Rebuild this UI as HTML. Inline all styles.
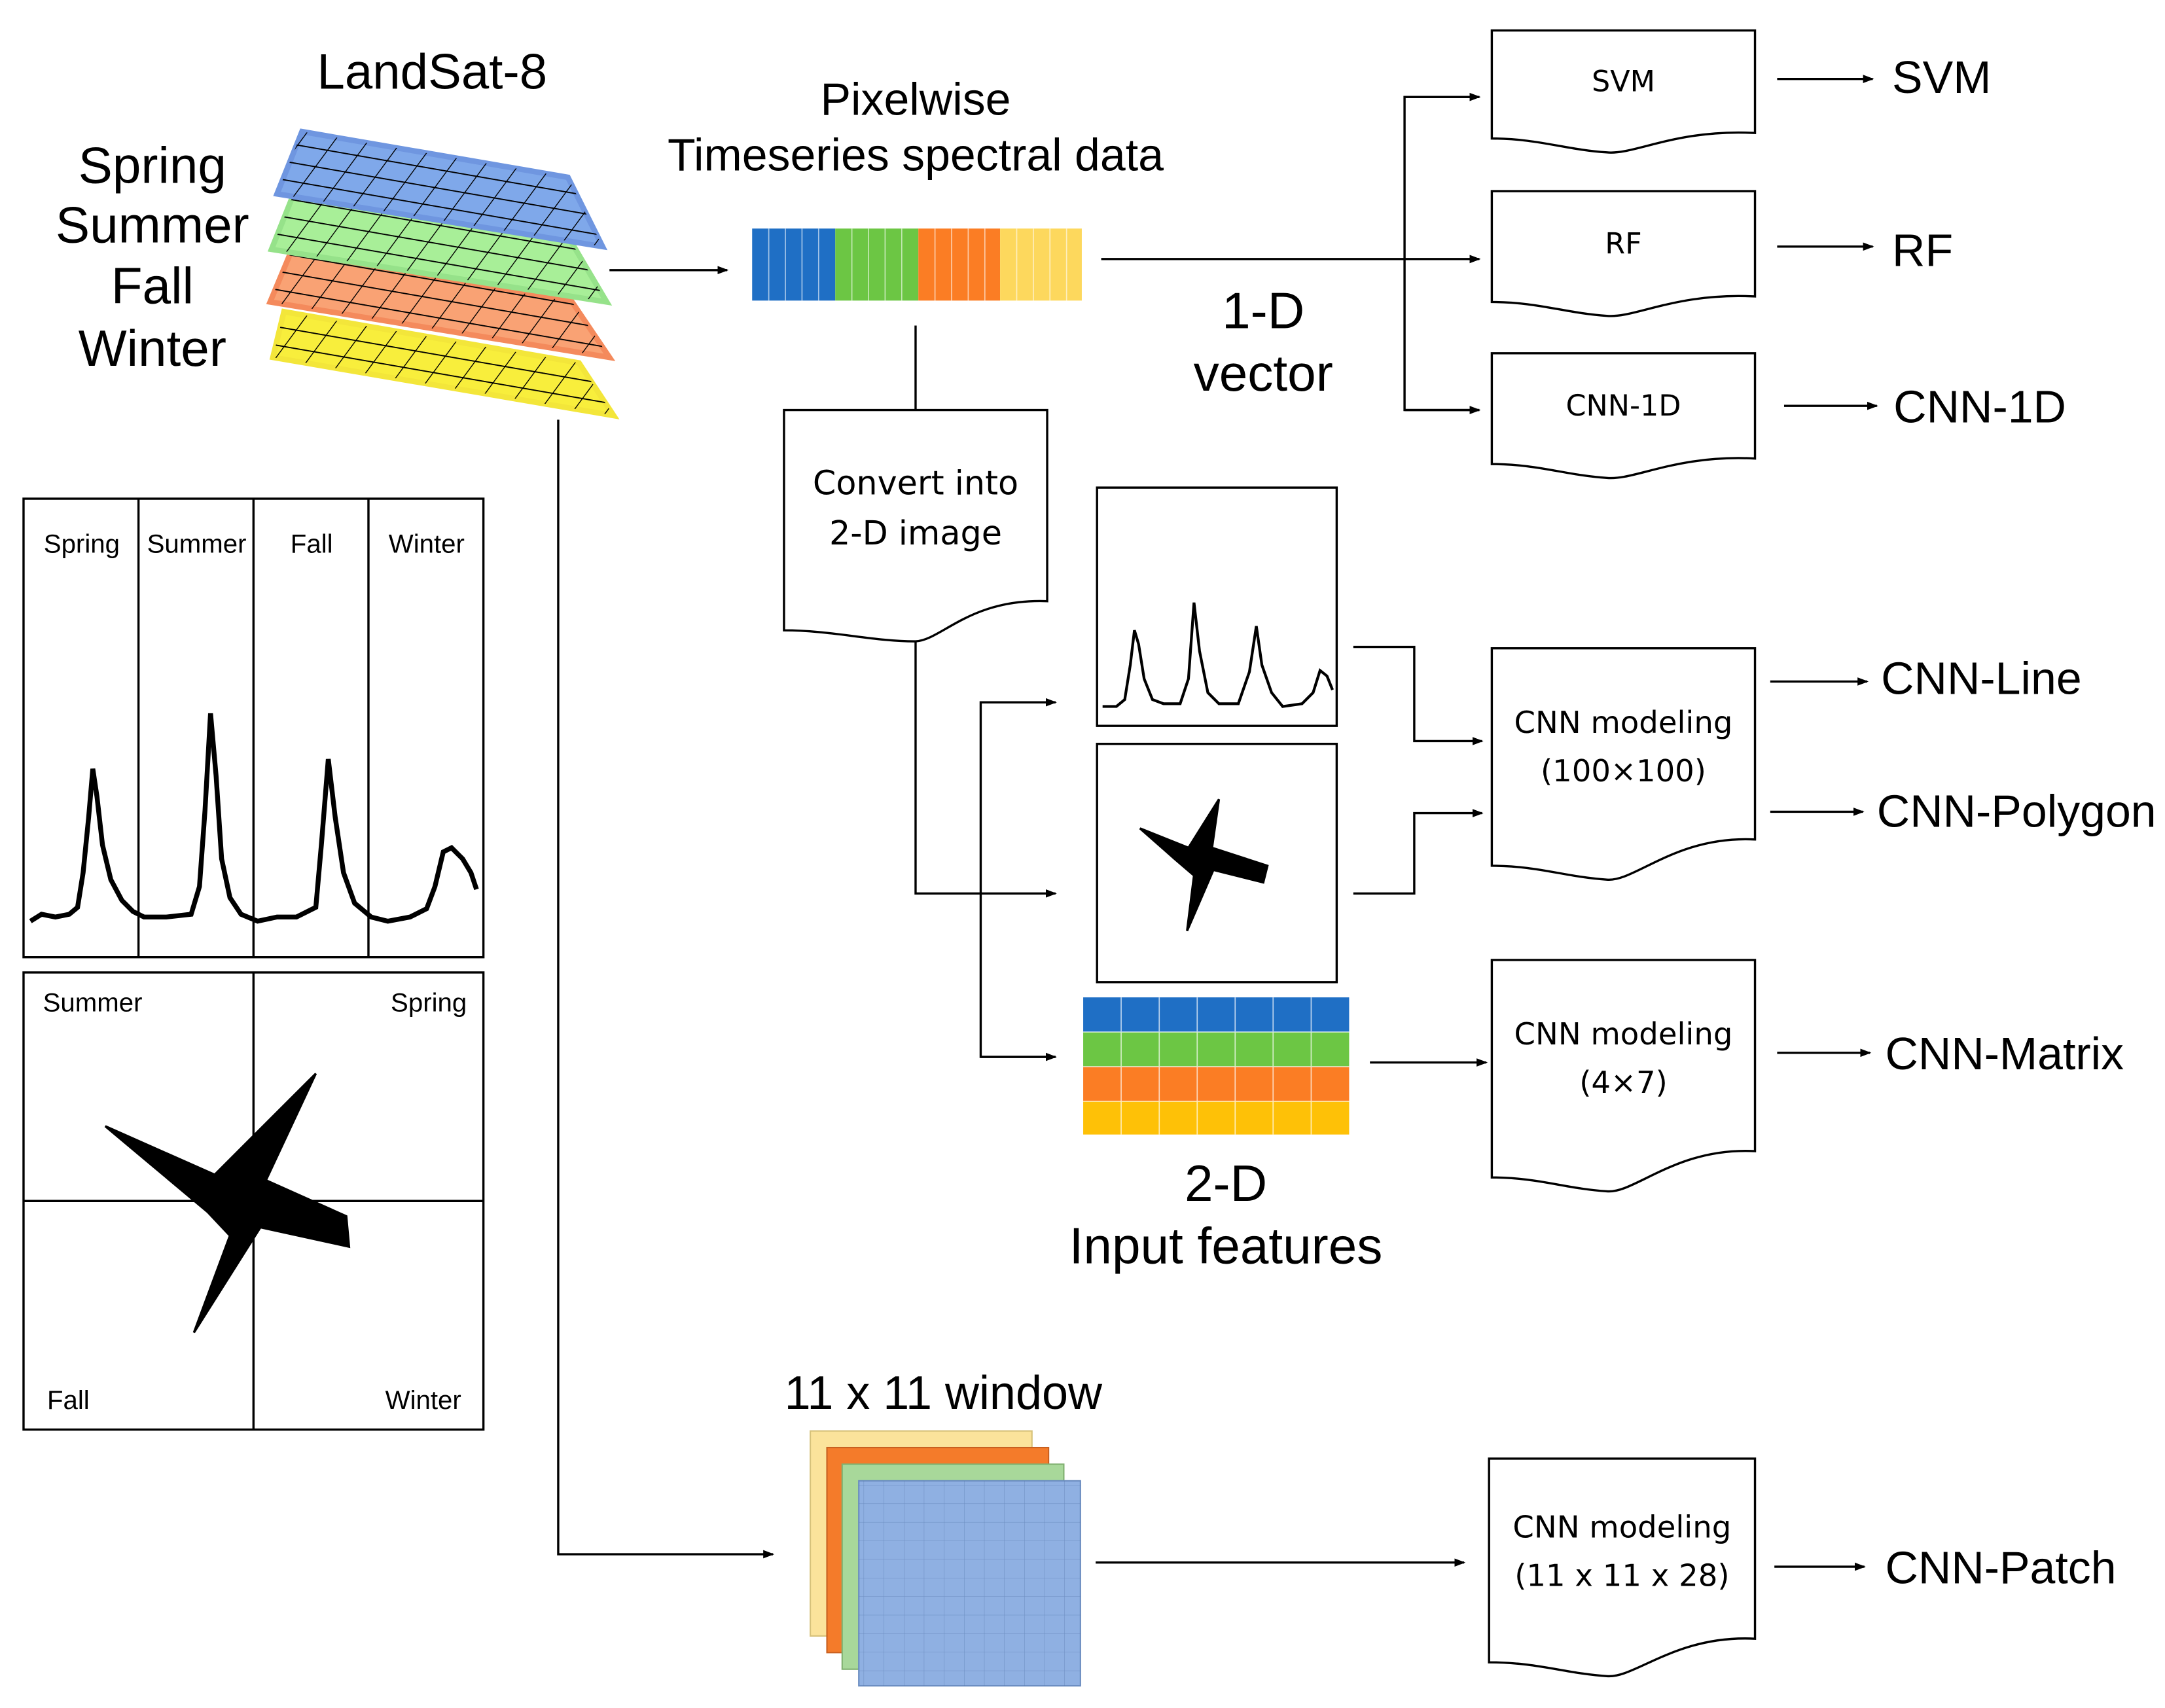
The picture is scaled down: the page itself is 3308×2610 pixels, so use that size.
<!DOCTYPE html>
<html><head><meta charset="utf-8"><style>
html,body{margin:0;padding:0;background:#fff;}
svg{display:block;}
text{font-family:"Liberation Sans",sans-serif;fill:#000;}
.c{text-anchor:middle;}
.dj{font-family:"DejaVu Sans","Liberation Sans",sans-serif;}
</style></head><body>
<svg width="3308" height="2610" viewBox="0 0 1563 1233" preserveAspectRatio="none" xmlns="http://www.w3.org/2000/svg">
<defs>
<marker id="a" markerWidth="8" markerHeight="8" refX="7" refY="4" orient="auto" markerUnits="userSpaceOnUse"><path d="M0,1 L8,4 L0,7 Z" fill="#000"/></marker>
<pattern id="g" width="24" height="12" patternUnits="userSpaceOnUse" patternTransform="skewX(-30) rotate(9)"><path d="M0,0 H24 M0,0 V12" stroke="#000" stroke-width="1.6" fill="none"/></pattern>
<pattern id="pg" width="14.5" height="13.4" patternUnits="userSpaceOnUse"><path d="M0,0 H14.5 M0,0 V13.4" stroke="#5577aa" stroke-width="0.5" fill="none" opacity="0.6"/></pattern>
</defs>
<g stroke="#000" stroke-width="1.6" fill="none">
<g>
<polygon points="205,225 418,262 443,300 197,258" fill="#f8ee3c" stroke="#f3e63a" stroke-width="4"/>
<polygon points="205,225 418,262 443,300 197,258" fill="url(#g)" stroke="none"/>
<polygon points="210,182 413,218 440,258 195,218" fill="#f9a274" stroke="#f48a5c" stroke-width="4"/>
<polygon points="210,182 413,218 440,258 195,218" fill="url(#g)" stroke="none"/>
<polygon points="212,140 412,174 438,218 196,180" fill="#a8ef98" stroke="#96e28a" stroke-width="4"/>
<polygon points="212,140 412,174 438,218 196,180" fill="url(#g)" stroke="none"/>
<polygon points="218,95 410,128 435,178 200,140" fill="#7fa8ea" stroke="#6f96e0" stroke-width="4"/>
<polygon points="218,95 410,128 435,178 200,140" fill="url(#g)" stroke="none"/>
</g>
<line x1="440" y1="195" x2="525" y2="195" marker-end="url(#a)"/>
<rect x="543" y="165" width="60" height="52" fill="#1f6fc5" stroke="none"/>
<rect x="603" y="165" width="60" height="52" fill="#6cc644" stroke="none"/>
<rect x="663" y="165" width="59" height="52" fill="#fb7d24" stroke="none"/>
<rect x="722" y="165" width="59" height="52" fill="#fdd85d" stroke="none"/>
<path d="M555,165V217M567,165V217M579,165V217M591,165V217M615,165V217M627,165V217M639,165V217M651,165V217M675,165V217M687,165V217M699,165V217M711,165V217M734,165V217M746,165V217M758,165V217M770,165V217" stroke="#fff" stroke-width="0.8" opacity="0.6"/>
<line x1="795" y1="187" x2="1068" y2="187" marker-end="url(#a)"/>
<path d="M1068,70 H1014 V296 H1068" />
<line x1="1014" y1="70" x2="1068" y2="70" marker-end="url(#a)"/>
<line x1="1014" y1="296" x2="1068" y2="296" marker-end="url(#a)"/>
<path d="M1077,22 H1267 V96 C1210,93 1180,112 1160,110 C1130,108 1110,100 1077,100 Z"/>
<path d="M1077,138 H1267 V214 C1210,211 1180,230 1160,228 C1130,226 1110,218 1077,218 Z"/>
<path d="M1077,255 H1267 V331 C1210,328 1180,347 1160,345 C1130,343 1110,335 1077,335 Z"/>
<line x1="1283" y1="57" x2="1352" y2="57" marker-end="url(#a)"/>
<line x1="1283" y1="178" x2="1352" y2="178" marker-end="url(#a)"/>
<line x1="1288" y1="293" x2="1355" y2="293" marker-end="url(#a)"/>
<line x1="661" y1="235" x2="661" y2="296"/>
<path d="M566,296 H756 V434 C700,432 680,462 661,463 C630,463 600,455 566,455 Z"/>
<path d="M661,463 V645 H762" marker-end="url(#a)"/>
<path d="M762,507 H708 V763 H762"/>
<line x1="708" y1="507" x2="762" y2="507" marker-end="url(#a)"/>
<line x1="708" y1="763" x2="762" y2="763" marker-end="url(#a)"/>
<rect x="792" y="352" width="173" height="172"/>
<polyline stroke-width="2" points="796,510 806,510 812,505 816,480 819,455 822,465 826,490 832,505 840,508 852,508 858,490 862,435 866,470 872,500 880,508 894,508 902,485 907,452 911,480 918,500 926,510 940,508 948,500 953,484 958,488 962,498"/>
<rect x="792" y="537" width="173" height="172"/>
<polygon fill="#000" points="823,598 858,612 880,577 875,612 915,625 912,637 876,628 857,672 862,632 848,620"/>
<g stroke="none">
<rect x="782" y="720" width="192" height="25" fill="#1f6fc5"/>
<rect x="782" y="745" width="192" height="25" fill="#6cc644"/>
<rect x="782" y="770" width="192" height="25" fill="#fb7d24"/>
<rect x="782" y="795" width="192" height="24" fill="#fec107"/>
</g>
<path d="M809.4,720V819M836.9,720V819M864.3,720V819M891.7,720V819M919.1,720V819M946.6,720V819M782,745H974M782,770H974M782,795H974" stroke="#fff" stroke-width="0.8" opacity="0.7"/>
<path d="M977,467 H1021 V535 H1070" marker-end="url(#a)"/>
<path d="M977,645 H1021 V587 H1070" marker-end="url(#a)"/>
<path d="M1077,468 H1267 V606 C1210,603 1180,637 1160,635 C1130,633 1110,625 1077,625 Z"/>
<line x1="1278" y1="492" x2="1348" y2="492" marker-end="url(#a)"/>
<line x1="1278" y1="586" x2="1345" y2="586" marker-end="url(#a)"/>
<line x1="989" y1="767" x2="1073" y2="767" marker-end="url(#a)"/>
<path d="M1077,693 H1267 V831 C1210,828 1180,862 1160,860 C1130,858 1110,850 1077,850 Z"/>
<line x1="1283" y1="760" x2="1350" y2="760" marker-end="url(#a)"/>
<rect x="17" y="360" width="332" height="331"/>
<path d="M100,360V691M183,360V691M266,360V691"/>
<polyline stroke-width="3.5" fill="none" points="22,665 30,660 40,662 50,660 56,655 60,630 64,590 67,555 70,575 74,610 80,635 88,650 96,658 104,662 120,662 138,660 144,640 148,585 152,515 156,560 160,620 166,648 174,660 186,665 200,662 214,662 228,655 232,610 237,548 242,590 248,630 256,652 268,662 280,665 296,662 308,656 314,640 320,615 326,612 334,620 340,630 344,642"/>
<rect x="17" y="702" width="332" height="330"/>
<path d="M183,702V1032M17,867H349"/>
<polygon fill="#000" points="76,813 155,848 228,775 192,852 250,878 252,900 188,886 140,962 166,892 150,875"/>
<path d="M403,303 V1122 H558" marker-end="url(#a)"/>
<rect x="585" y="1033" width="160" height="148" fill="#fbe39b" stroke="#d7c27a" stroke-width="1"/>
<rect x="597" y="1045" width="160" height="148" fill="#f47b2a" stroke="#c86020" stroke-width="1"/>
<rect x="608" y="1057" width="160" height="148" fill="#a8d89a" stroke="#80b070" stroke-width="1"/>
<rect x="620" y="1069" width="160" height="148" fill="#8fb0e2" stroke="#6a8cc0" stroke-width="1"/>
<rect x="620" y="1069" width="160" height="148" fill="url(#pg)" stroke="none"/>
<line x1="791" y1="1128" x2="1057" y2="1128" marker-end="url(#a)"/>
<path d="M1075,1053 H1267 V1183 C1210,1180 1180,1212 1160,1210 C1130,1208 1110,1200 1075,1200 Z"/>
<line x1="1281" y1="1131" x2="1346" y2="1131" marker-end="url(#a)"/>
</g>
<text x="312" y="64" class="c" font-size="36">LandSat-8</text>
<text x="110" y="132" class="c" font-size="37">Spring</text>
<text x="110" y="175" class="c" font-size="37">Summer</text>
<text x="110" y="219" class="c" font-size="37">Fall</text>
<text x="110" y="264" class="c" font-size="37">Winter</text>
<text x="661" y="83" class="c" font-size="33">Pixelwise</text>
<text x="661" y="123" class="c" font-size="33">Timeseries spectral data</text>
<text x="912" y="237" class="c" font-size="37">1-D</text>
<text x="912" y="282" class="c" font-size="37">vector</text>
<text x="1172" y="66" class="c dj" font-size="21">SVM</text>
<text x="1172" y="183" class="c dj" font-size="21">RF</text>
<text x="1172" y="300" class="c dj" font-size="21">CNN-1D</text>
<text x="1366" y="67" font-size="33">SVM</text>
<text x="1366" y="192" font-size="33">RF</text>
<text x="1367" y="305" font-size="33">CNN-1D</text>
<text x="661" y="357" class="c dj" font-size="24">Convert into</text>
<text x="661" y="393" class="c dj" font-size="24">2-D image</text>
<text x="1172" y="529" class="c dj" font-size="22">CNN modeling</text>
<text x="1172" y="564" class="c dj" font-size="22">(100×100)</text>
<text x="1358" y="501" font-size="33">CNN-Line</text>
<text x="1355" y="597" font-size="33">CNN-Polygon</text>
<text x="1172" y="754" class="c dj" font-size="22">CNN modeling</text>
<text x="1172" y="789" class="c dj" font-size="22">(4×7)</text>
<text x="1361" y="772" font-size="33">CNN-Matrix</text>
<text x="885" y="867" class="c" font-size="37">2-D</text>
<text x="885" y="912" class="c" font-size="37">Input features</text>
<text x="59" y="399" class="c" font-size="19">Spring</text>
<text x="142" y="399" class="c" font-size="19">Summer</text>
<text x="225" y="399" class="c" font-size="19">Fall</text>
<text x="308" y="399" class="c" font-size="19">Winter</text>
<text x="31" y="730" font-size="19">Summer</text>
<text x="337" y="730" font-size="19" text-anchor="end">Spring</text>
<text x="34" y="1017" font-size="19">Fall</text>
<text x="333" y="1017" font-size="19" text-anchor="end">Winter</text>
<text x="681" y="1017" class="c" font-size="34">11 x 11 window</text>
<text x="1171" y="1110" class="c dj" font-size="22">CNN modeling</text>
<text x="1171" y="1145" class="c dj" font-size="22">(11 x 11 x 28)</text>
<text x="1361" y="1143" font-size="33">CNN-Patch</text>
</svg>
</body></html>
